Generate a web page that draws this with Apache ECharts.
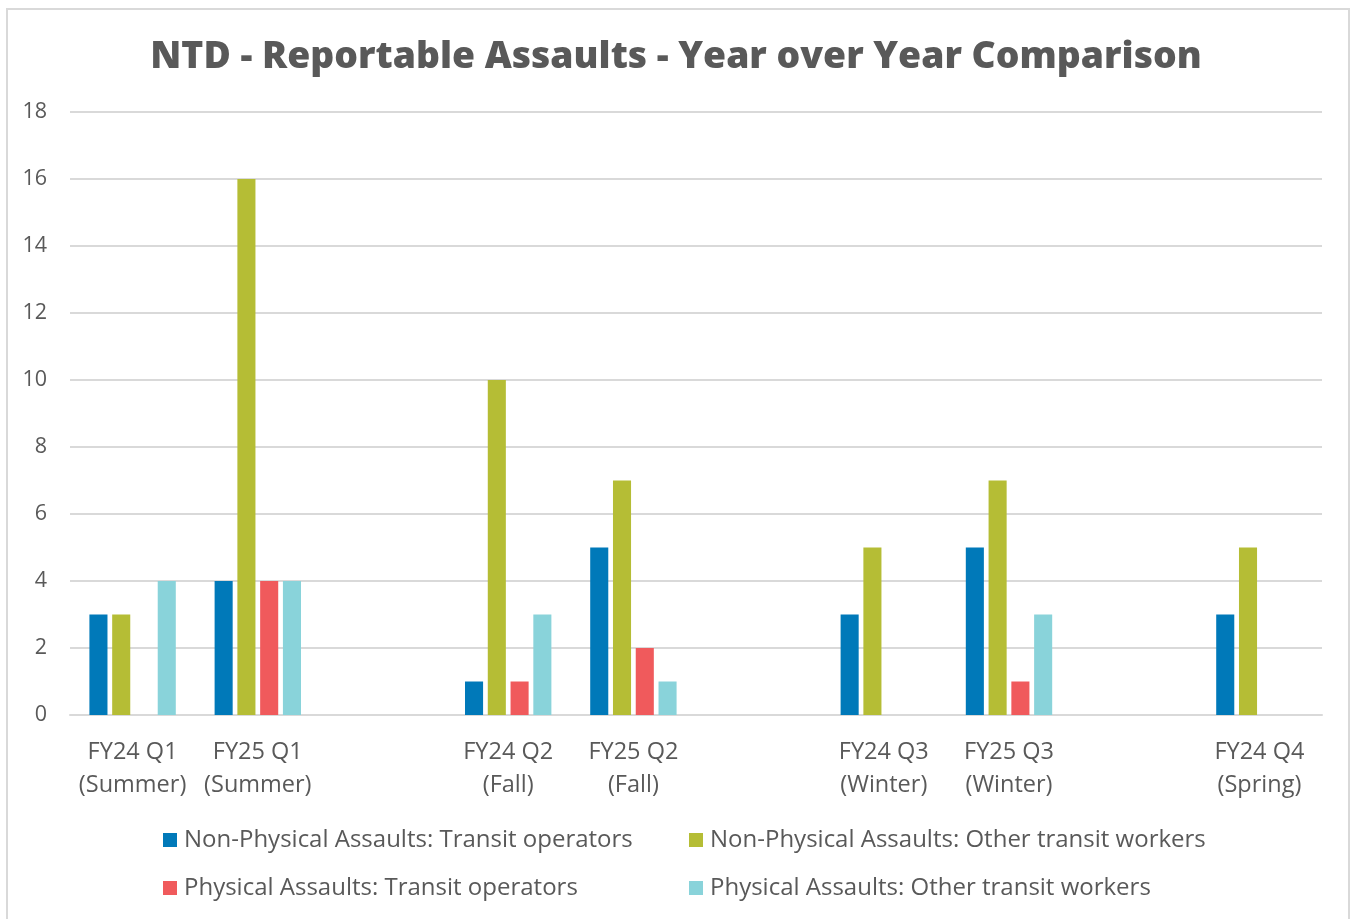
<!DOCTYPE html>
<html><head><meta charset="utf-8">
<script src="https://cdn.jsdelivr.net/npm/echarts@6/dist/echarts.min.js"></script>
<style>html,body{margin:0;padding:0;background:#fff}#c{width:1352px;height:919px}</style>
</head><body><div id="c"></div>
<script>
const categories = ['FY24 Q1\n(Summer)', 'FY25 Q1\n(Summer)', '', 'FY24 Q2\n(Fall)', 'FY25 Q2\n(Fall)', '', 'FY24 Q3\n(Winter)', 'FY25 Q3\n(Winter)', '', 'FY24 Q4\n(Spring)'];
const seriesNames = ['Non-Physical Assaults: Transit operators', 'Non-Physical Assaults: Other transit workers', 'Physical Assaults: Transit operators', 'Physical Assaults: Other transit workers'];
const nonPhysOperators = [3, 4, null, 1, 5, null, 3, 5, null, 3];
const nonPhysOther = [3, 16, null, 10, 7, null, 5, 7, null, 5];
const physOperators = [0, 4, null, 1, 2, null, 0, 1, null, 0];
const physOther = [4, 4, null, 3, 1, null, 0, 3, null, 0];
const yTicks = [0, 2, 4, 6, 8, 10, 12, 14, 16, 18];
const colors = ['#0079B9', '#B5BD35', '#F05A5C', '#89D3DA'];

const font = '"Open Sans", sans-serif';
const chart = echarts.init(document.getElementById('c'), null, {renderer: 'canvas'});
const dataArr = [nonPhysOperators, nonPhysOther, physOperators, physOther];
chart.setOption({
  backgroundColor: '#fff',
  animation: false,
  title: {
    text: 'NTD - Reportable Assaults - Year over Year Comparison',
    left: 'center', top: 34, padding: [5, 5, 5, 11],
    textStyle: {fontFamily: font, fontWeight: 800, fontSize: 37.3, color: '#595959'}
  },
  graphic: [{
    type: 'rect', shape: {x: 7, y: 9, width: 1342, height: 920},
    style: {fill: 'none', stroke: '#d9d9d9', lineWidth: 2}, silent: true, z: -1
  }],
  legend: [{
    orient: 'vertical', left: 163, top: 828, padding: 0, itemWidth: 14, itemHeight: 14, itemGap: 24,
    icon: 'rect', data: [seriesNames[0], seriesNames[2]],
    textStyle: {fontFamily: font, fontSize: 24, color: '#595959', padding: [0, 0, 0, 2]}
  }, {
    orient: 'vertical', left: 689, top: 828, padding: 0, itemWidth: 14, itemHeight: 14, itemGap: 24,
    icon: 'rect', data: [seriesNames[1], seriesNames[3]],
    textStyle: {fontFamily: font, fontSize: 24, color: '#595959', padding: [0, 0, 0, 2]}
  }],
  grid: {left: 70, right: 30, top: 112, bottom: 204, containLabel: false},
  xAxis: {
    type: 'category', data: categories,
    axisLine: {lineStyle: {color: '#d9d9d9', width: 2}},
    axisTick: {show: false},
    axisLabel: {interval: 0, margin: 21, fontFamily: font, fontSize: 23.5, lineHeight: 33, color: '#595959'}
  },
  yAxis: {
    type: 'value', min: yTicks[0], max: yTicks[yTicks.length - 1], interval: 2,
    axisLine: {show: false}, axisTick: {show: false},
    splitLine: {lineStyle: {color: '#d9d9d9', width: 2}},
    axisLabel: {margin: 23, fontFamily: font, fontSize: 21.5, color: '#595959'}
  },
  series: seriesNames.map((n, i) => ({
    name: n, type: 'bar', data: dataArr[i],
    barGap: '26%', barCategoryGap: '31%',
    itemStyle: {color: colors[i]}
  }))
});
</script></body></html>
